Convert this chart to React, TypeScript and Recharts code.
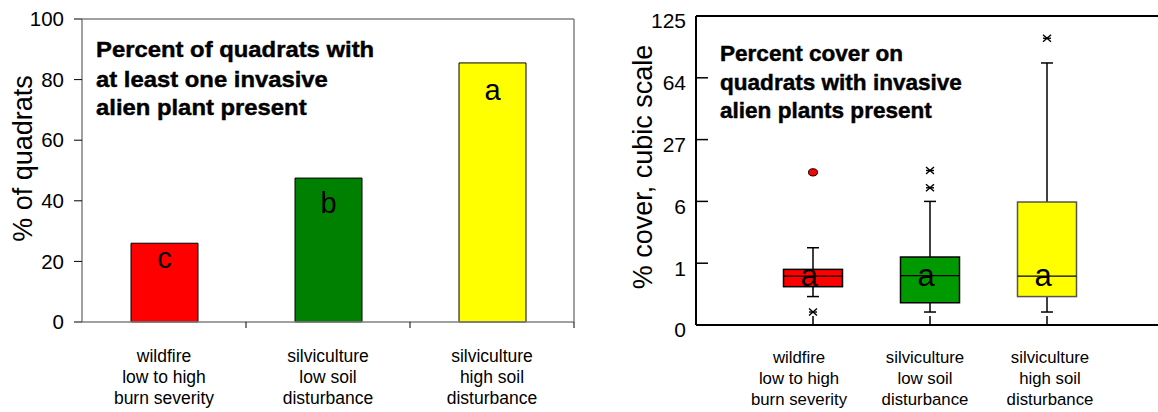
import React from "react";
import {
  BarChart,
  Bar,
  Cell,
  XAxis,
  YAxis,
  ReferenceLine,
  LabelList,
  ComposedChart,
  Scatter,
} from "recharts";

// shared categories (three treatments)
const categoryLines = [
  ["wildfire", "low to high", "burn severity"],
  ["silviculture", "low soil", "disturbance"],
  ["silviculture", "high soil", "disturbance"],
];

// left panel: % of quadrats with at least one invasive plant
const percentQuadrats = [26, 47.5, 85.5];
const barLetters = ["c", "b", "a"];
const barColors = ["#ff0000", "#008000", "#ffff00"];
const percentTicks = [0, 20, 40, 60, 80, 100];

// right panel: % cover, read in cube-root units of the axis
const coverTickPos = [0, 1, 2, 3, 4, 5];
const coverTickLabels = ["0", "1", "6", "27", "64", "125"];
const whiskerLow = [0.46, 0.21, 0.21];
const boxLow = [0.62, 0.36, 0.46];
const boxMedian = [0.79, 0.8, 0.79];
const boxHigh = [0.9, 1.1, 1.99];
const whiskerHigh = [1.25, 2.0, 4.24];
const boxLetters = ["a", "a", "a"];
const boxColors = ["#ff0000", "#009900", "#ffff00"];
const outlierGroup = [1, 1, 2, 2, 3];
const outlierValue = [2.47, 0.21, 2.5, 2.22, 4.64];
const outlierKind = ["dot", "star", "star", "star", "star"];

const FONT = '"Liberation Sans", Arial, Helvetica, sans-serif';
const BAR_PLOT_W = 574 - 82;
const letterDrop = [25, 35, 37];
const boxEdge = ["#000", "#000", "#555"];

const barData = categoryLines.map((lines, i) => ({
  name: lines.join(" "),
  pct: percentQuadrats[i],
  letter: barLetters[i],
}));

const boxData = categoryLines.map((lines, i) => ({
  group: i + 1,
  range: [boxLow[i], boxHigh[i]],
  lo: whiskerLow[i],
  med: boxMedian[i],
  hi: whiskerHigh[i],
  letter: boxLetters[i],
}));

const outliers = outlierGroup.map((g, i) => ({
  group: g,
  value: outlierValue[i],
  kind: outlierKind[i],
}));

const BarTick = (props: any) => {
  const { x, y, index } = props;
  const lines = categoryLines[index] || [];
  return (
    <g>
      <line x1={x + BAR_PLOT_W / 6} x2={x + BAR_PLOT_W / 6} y1={y} y2={y + 6} stroke="#000" />
      {lines.map((t, k) => (
        <text key={k} x={x} y={y + 40 + k * 21} textAnchor="middle" fontSize={17.5} fill="#000" fontFamily={FONT}>
          {t}
        </text>
      ))}
    </g>
  );
};

const BarLetter = (props: any) => {
  const { x, y, width, value, index } = props;
  return (
    <text x={x + width / 2} y={y + letterDrop[index]} textAnchor="middle" fontSize={29} fill="#000" fontFamily={FONT}>
      {value}
    </text>
  );
};

const BoxTick = (props: any) => {
  const { x, y, payload } = props;
  const lines = categoryLines[payload.value - 1] || [];
  const nudge = [-14, -5, 3][payload.value - 1] || 0;
  return (
    <g>
      {lines.map((t, k) => (
        <text key={k} x={x + nudge} y={y + 38 + k * 21} textAnchor="middle" fontSize={16.8} fill="#000" fontFamily={FONT}>
          {t}
        </text>
      ))}
    </g>
  );
};

const BoxShape = (props: any) => {
  const { x, y, width, height, payload, fill, index } = props;
  const [q1, q3] = payload.range;
  const k = height / (q3 - q1);
  const yOf = (v: number) => y + height - (v - q1) * k;
  const cx = x + width / 2;
  return (
    <g>
      <line x1={cx} x2={cx} y1={yOf(q3)} y2={yOf(payload.hi)} stroke="#000" strokeWidth={1.5} />
      <line x1={cx - 6} x2={cx + 6} y1={yOf(payload.hi)} y2={yOf(payload.hi)} stroke="#000" strokeWidth={1.5} />
      <line x1={cx} x2={cx} y1={yOf(q1)} y2={yOf(payload.lo)} stroke="#000" strokeWidth={1.5} />
      <line x1={cx - 6} x2={cx + 6} y1={yOf(payload.lo)} y2={yOf(payload.lo)} stroke="#000" strokeWidth={1.5} />
      <rect x={x} y={y} width={width} height={height} fill={fill} stroke={boxEdge[index] || "#000"} strokeWidth={1.5} />
      <line x1={x} x2={x + width} y1={yOf(payload.med)} y2={yOf(payload.med)} stroke="#000" strokeWidth={1.2} />
      <text x={cx - 4} y={yOf(payload.med) + 10} textAnchor="middle" fontSize={31} fill="#000" fontFamily={FONT}>
        {payload.letter}
      </text>
    </g>
  );
};

const OutlierShape = (props: any) => {
  const { cx, cy, payload } = props;
  if (payload.kind === "dot") {
    return <ellipse cx={cx} cy={cy} rx={4.5} ry={3.6} fill="#ff0000" stroke="#000" strokeWidth={1} />;
  }
  return (
    <g stroke="#000" strokeWidth={1.4}>
      <line x1={cx - 4} x2={cx + 4} y1={cy - 3.5} y2={cy + 3.5} />
      <line x1={cx - 4} x2={cx + 4} y1={cy + 3.5} y2={cy - 3.5} />
      <line x1={cx - 4} x2={cx + 4} y1={cy} y2={cy} />
    </g>
  );
};

export default function App() {
  return (
    <div
      style={{
        position: "absolute",
        left: 0,
        top: 0,
        width: 1158,
        height: 412,
        overflow: "hidden",
        background: "#fff",
        fontFamily: FONT,
      }}
    >
      <div style={{ position: "absolute", left: 0, top: 0 }}>
        <BarChart width={580} height={412} data={barData} margin={{ top: 19, right: 0, bottom: 0, left: 0 }}>
          <XAxis
            dataKey="name"
            height={90}
            interval={0}
            axisLine={{ stroke: "#808080", strokeWidth: 1.5 }}
            tickLine={false}
            tickSize={0}
            tickMargin={0}
            tick={<BarTick />}
          />
          <YAxis
            width={82}
            domain={[0, 100]}
            ticks={percentTicks}
            interval={0}
            axisLine={{ stroke: "#808080", strokeWidth: 1.5 }}
            tickLine={{ stroke: "#000" }}
            tickSize={8}
            tickMargin={10}
            tick={{ fontSize: 20.5, fill: "#000", fontFamily: FONT }}
          />
          <YAxis
            yAxisId="frame"
            orientation="right"
            width={6}
            domain={[0, 100]}
            tick={false}
            tickLine={false}
            axisLine={{ stroke: "#808080", strokeWidth: 1.5 }}
          />
          <ReferenceLine y={100} stroke="#808080" strokeWidth={1.5} />
          <Bar dataKey="pct" barSize={67} stroke="#000" strokeWidth={1} isAnimationActive={false}>
            {barData.map((d, i) => (
              <Cell key={d.name} fill={barColors[i]} />
            ))}
            <LabelList dataKey="letter" content={<BarLetter />} />
          </Bar>
        </BarChart>
      </div>

      <div style={{ position: "absolute", left: 580, top: 0 }}>
        <ComposedChart width={584} height={412} data={boxData} margin={{ top: 0, right: 0, bottom: 0, left: 0 }}>
          <XAxis
            dataKey="group"
            type="number"
            domain={[0, 4]}
            ticks={[1, 2, 3]}
            interval={0}
            height={87}
            axisLine={{ stroke: "#000", strokeWidth: 2 }}
            tickLine={{ stroke: "#000", strokeWidth: 1.5 }}
            tickSize={-9}
            tickMargin={9}
            tick={<BoxTick />}
          />
          <XAxis
            xAxisId="top"
            orientation="top"
            type="number"
            domain={[0, 4]}
            ticks={[1, 2, 3]}
            interval={0}
            height={16}
            axisLine={{ stroke: "#000", strokeWidth: 2 }}
            tickLine={{ stroke: "#000", strokeWidth: 1.5 }}
            tickSize={-9}
            tick={false}
          />
          <YAxis
            width={116}
            domain={[0, 5]}
            ticks={coverTickPos}
            interval={0}
            tickFormatter={(v: number) => coverTickLabels[coverTickPos.indexOf(v)]}
            axisLine={{ stroke: "#000", strokeWidth: 2 }}
            tickLine={{ stroke: "#000", strokeWidth: 1.5 }}
            tickSize={-12}
            tickMargin={22}
            tick={{ fontSize: 21, fill: "#000", fontFamily: FONT, dy: 5 }}
          />
          <YAxis
            yAxisId="r"
            orientation="right"
            width={0}
            domain={[0, 5]}
            ticks={coverTickPos}
            interval={0}
            axisLine={{ stroke: "#000", strokeWidth: 2 }}
            tickLine={{ stroke: "#000", strokeWidth: 1.5 }}
            tickSize={-12}
            tick={false}
          />
          <Bar dataKey="range" barSize={59} shape={<BoxShape />} isAnimationActive={false}>
            {boxData.map((d, i) => (
              <Cell key={d.group} fill={boxColors[i]} />
            ))}
          </Bar>
          <Scatter data={outliers} dataKey="value" shape={<OutlierShape />} isAnimationActive={false} />
        </ComposedChart>
      </div>

      <svg width={1158} height={412} style={{ position: "absolute", left: 0, top: 0, pointerEvents: "none" }}>
        <g fontFamily={FONT} fontWeight="bold" fill="#000" stroke="#000" strokeWidth={0.45}>
          <g transform="translate(96,0) scale(1.06,1)" fontSize={22.5}>
            <text x={0} y={57}>Percent of quadrats with</text>
            <text x={0} y={87}>at least one invasive</text>
            <text x={0} y={115}>alien plant present</text>
          </g>
          <g transform="translate(720,0) scale(1.04,1)" fontSize={21.7}>
            <text x={0} y={61}>Percent cover on</text>
            <text x={0} y={90}>quadrats with invasive</text>
            <text x={0} y={118}>alien plants present</text>
          </g>
        </g>
        <text
          transform="translate(23,158.5) rotate(-90)"
          textAnchor="middle"
          dy="0.35em"
          fontSize={27}
          fontFamily={FONT}
          fill="#000"
        >
          % of quadrats
        </text>
        <text
          transform="translate(643,167) rotate(-90)"
          textAnchor="middle"
          dy="0.35em"
          fontSize={27}
          fontFamily={FONT}
          fill="#000"
        >
          % cover, cubic scale
        </text>
      </svg>
    </div>
  );
}
